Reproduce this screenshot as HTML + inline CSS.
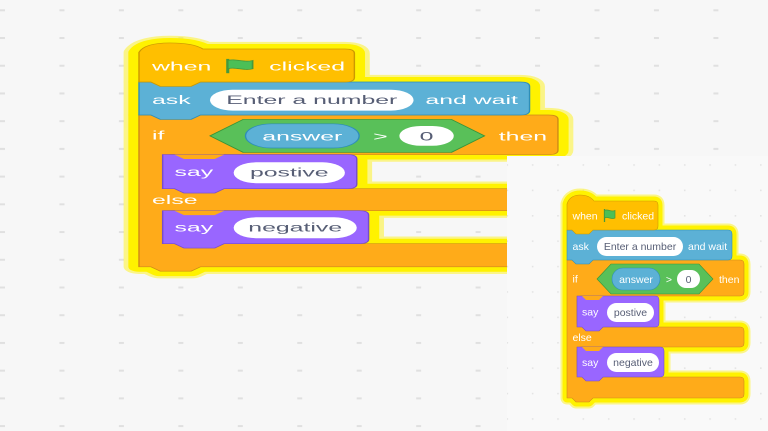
<!DOCTYPE html>
<html><head><meta charset="utf-8"><style>
html,body{margin:0;padding:0;width:768px;height:431px;overflow:hidden;background:#f8f8f8}
svg{display:block}
text{font-family:"Liberation Sans",sans-serif;font-size:10.5px}
.w{fill:#fff}.d{fill:#575e75}
</style></head><body>
<svg width="768" height="431" viewBox="0 0 768 431" xmlns="http://www.w3.org/2000/svg">
<defs>
<pattern id="gA" patternUnits="userSpaceOnUse" x="0" y="9.3" width="59.45" height="27.72"><rect x="0" y="0" width="5" height="2" fill="#e0e0e0"/></pattern>
<pattern id="gB" patternUnits="userSpaceOnUse" x="506.5" y="164.2" width="25.35" height="25.4"><rect x="0" y="0" width="1.6" height="1.6" fill="#e4e4e4"/></pattern>
</defs>
<rect width="768" height="431" fill="#f7f7f7"/>
<rect width="768" height="431" fill="url(#gA)"/>

<!-- LEFT (stretched) -->
<g transform="matrix(2.367 0 0 1.1 -1203.1 -171)">
 <g fill="none" stroke="#fff200" stroke-linejoin="round" opacity="0.45" stroke-width="13">
  <path d="M567,230 V203 C569,196 575,194.5 580,194.5 C586,194.5 591,196 594,200 H654 Q658,200 658,204 V226 Q658,230 654,230 Z"/>
  <path d="M567,230 H728 Q732,230 732,234 V256 Q732,260 728,260 H567 Z"/>
  <path d="M567,260 H740 Q744,260 744,264 V292 Q744,296 740,296 H581 Q577,296 577,300 V323 Q577,327 581,327 H740 Q744,327 744,331 V343 Q744,347 740,347 H581 Q577,347 577,351 V373 Q577,377 581,377 H740 Q744,377 744,381 V394 Q744,398 740,398 H593 L589,402 H576 L572,398 H567 Z"/>
  <path d="M577,296 H655 Q659,296 659,300 V323 Q659,327 655,327 H577 Z"/>
  <path d="M577,347 H660 Q664,347 664,351 V373 Q664,377 660,377 H577 Z"/>
 </g>
 <g fill="#fff200" stroke="#fff200" stroke-linejoin="round" stroke-width="9">
  <path d="M567,230 V203 C569,196 575,194.5 580,194.5 C586,194.5 591,196 594,200 H654 Q658,200 658,204 V226 Q658,230 654,230 Z"/>
  <path d="M567,230 H728 Q732,230 732,234 V256 Q732,260 728,260 H567 Z"/>
  <path d="M567,260 H740 Q744,260 744,264 V292 Q744,296 740,296 H581 Q577,296 577,300 V323 Q577,327 581,327 H740 Q744,327 744,331 V343 Q744,347 740,347 H581 Q577,347 577,351 V373 Q577,377 581,377 H740 Q744,377 744,381 V394 Q744,398 740,398 H593 L589,402 H576 L572,398 H567 Z"/>
  <path d="M577,296 H655 Q659,296 659,300 V323 Q659,327 655,327 H577 Z"/>
  <path d="M577,347 H660 Q664,347 664,351 V373 Q664,377 660,377 H577 Z"/>
 </g>
 <path d="M567,260 H740 Q744,260 744,264 V292 Q744,296 740,296 H581 Q577,296 577,300 V323 Q577,327 581,327 H740 Q744,327 744,331 V343 Q744,347 740,347 H581 Q577,347 577,351 V373 Q577,377 581,377 H740 Q744,377 744,381 V394 Q744,398 740,398 H593 L589,402 H576 L572,398 H567 Z" fill="#ffab19" stroke="#cf8b17" stroke-width="0.6"/>
 <path d="M577,296 H655 Q659,296 659,300 V323 Q659,327 655,327 H603 L599,331 H586 L582,327 H577 Z" fill="#9966ff" stroke="#774dcb" stroke-width="0.6"/>
 <path d="M577,347 H660 Q664,347 664,351 V373 Q664,377 660,377 H603 L599,381 H586 L582,377 H577 Z" fill="#9966ff" stroke="#774dcb" stroke-width="0.6"/>
 <path d="M582,296 L586,300 H599 L603,296 Z" fill="#ffab19"/>
 <path d="M582,347 L586,351 H599 L603,347 Z" fill="#ffab19"/>
 <path d="M567,230 H728 Q732,230 732,234 V256 Q732,260 728,260 H593 L589,264 H576 L572,260 H567 Z" fill="#5cb1d6" stroke="#2e8eb8" stroke-width="0.6"/>
 <path d="M567,230 V203 C569,196 575,194.5 580,194.5 C586,194.5 591,196 594,200 H654 Q658,200 658,204 V226 Q658,230 654,230 H593 L589,234 H576 L572,230 H567 Z" fill="#ffbf00" stroke="#cc9900" stroke-width="0.6"/>
 <text x="572.5" y="219.5" class="w">when</text>
 <line x1="604.5" y1="209" x2="604.5" y2="222" stroke="#45993d" stroke-width="1.3"/>
 <path d="M604.5,210.5 C608,208.5 611,212.5 615,210.5 L615,218 C611,220 608,216 604.5,218 Z" fill="#4cbf56" stroke="#45993d" stroke-width="0.7"/>
 <text x="622" y="219.5" class="w">clicked</text>
 <text x="572.5" y="250" class="w">ask</text>
 <rect x="597" y="237" width="86" height="19" rx="9.5" fill="#fff"/>
 <text x="640" y="250" class="d" text-anchor="middle">Enter a number</text>
 <text x="688" y="250" class="w">and wait</text>
 <text x="572.5" y="282.5" class="w">if</text>
 <path d="M597,279 L611,264 H699 L713,279 L699,294 H611 Z" fill="#59c059" stroke="#389438" stroke-width="0.6"/>
 <rect x="612" y="268" width="48" height="22" rx="11" fill="#5cb1d6" stroke="#2e8eb8" stroke-width="0.6"/>
 <text x="636" y="283" class="w" text-anchor="middle">answer</text>
 <text x="669" y="283" class="w" text-anchor="middle">&gt;</text>
 <rect x="677" y="270" width="23" height="18" rx="9" fill="#fff"/>
 <text x="688.5" y="283" class="d" text-anchor="middle">0</text>
 <text x="719" y="283" class="w">then</text>
 <text x="582" y="315.5" class="w">say</text>
 <rect x="607" y="303" width="47" height="19" rx="9.5" fill="#fff"/>
 <text x="630.5" y="316" class="d" text-anchor="middle">postive</text>
 <text x="572.5" y="341" class="w">else</text>
 <text x="582" y="366" class="w">say</text>
 <rect x="607" y="353" width="52" height="19" rx="9.5" fill="#fff"/>
 <text x="633" y="366" class="d" text-anchor="middle">negative</text>
</g>

<!-- RIGHT pasted image area -->
<rect x="507" y="156" width="261" height="275" fill="#f9f9f9"/>
<rect x="507" y="156" width="261" height="275" fill="url(#gB)"/>

<g>
 <g fill="none" stroke="#fff200" stroke-linejoin="round" opacity="0.45" stroke-width="13">
  <path d="M567,230 V204 C569,197 575,195 580,195 C586,195 591,197 594,201 H654 Q658,201 658,205 V226 Q658,230 654,230 Z"/>
  <path d="M567,230 H728 Q732,230 732,234 V256 Q732,260 728,260 H567 Z"/>
  <path d="M567,260 H740 Q744,260 744,264 V292 Q744,296 740,296 H581 Q577,296 577,300 V323 Q577,327 581,327 H740 Q744,327 744,331 V343 Q744,347 740,347 H581 Q577,347 577,351 V373 Q577,377 581,377 H740 Q744,377 744,381 V394 Q744,398 740,398 H593 L589,402 H576 L572,398 H567 Z"/>
  <path d="M577,296 H655 Q659,296 659,300 V323 Q659,327 655,327 H577 Z"/>
  <path d="M577,347 H660 Q664,347 664,351 V373 Q664,377 660,377 H577 Z"/>
 </g>
 <g fill="#fff200" stroke="#fff200" stroke-linejoin="round" stroke-width="9">
  <path d="M567,230 V204 C569,197 575,195 580,195 C586,195 591,197 594,201 H654 Q658,201 658,205 V226 Q658,230 654,230 Z"/>
  <path d="M567,230 H728 Q732,230 732,234 V256 Q732,260 728,260 H567 Z"/>
  <path d="M567,260 H740 Q744,260 744,264 V292 Q744,296 740,296 H581 Q577,296 577,300 V323 Q577,327 581,327 H740 Q744,327 744,331 V343 Q744,347 740,347 H581 Q577,347 577,351 V373 Q577,377 581,377 H740 Q744,377 744,381 V394 Q744,398 740,398 H593 L589,402 H576 L572,398 H567 Z"/>
  <path d="M577,296 H655 Q659,296 659,300 V323 Q659,327 655,327 H577 Z"/>
  <path d="M577,347 H660 Q664,347 664,351 V373 Q664,377 660,377 H577 Z"/>
 </g>
 <path d="M567,260 H740 Q744,260 744,264 V292 Q744,296 740,296 H581 Q577,296 577,300 V323 Q577,327 581,327 H740 Q744,327 744,331 V343 Q744,347 740,347 H581 Q577,347 577,351 V373 Q577,377 581,377 H740 Q744,377 744,381 V394 Q744,398 740,398 H593 L589,402 H576 L572,398 H567 Z" fill="#ffab19" stroke="#cf8b17" stroke-width="0.6"/>
 <path d="M577,296 H655 Q659,296 659,300 V323 Q659,327 655,327 H603 L599,331 H586 L582,327 H577 Z" fill="#9966ff" stroke="#774dcb" stroke-width="0.6"/>
 <path d="M577,347 H660 Q664,347 664,351 V373 Q664,377 660,377 H603 L599,381 H586 L582,377 H577 Z" fill="#9966ff" stroke="#774dcb" stroke-width="0.6"/>
 <path d="M582,296 L586,300 H599 L603,296 Z" fill="#ffab19"/>
 <path d="M582,347 L586,351 H599 L603,347 Z" fill="#ffab19"/>
 <path d="M567,230 H728 Q732,230 732,234 V256 Q732,260 728,260 H593 L589,264 H576 L572,260 H567 Z" fill="#5cb1d6" stroke="#2e8eb8" stroke-width="0.6"/>
 <path d="M567,230 V204 C569,197 575,195 580,195 C586,195 591,197 594,201 H654 Q658,201 658,205 V226 Q658,230 654,230 H593 L589,234 H576 L572,230 H567 Z" fill="#ffbf00" stroke="#cc9900" stroke-width="0.6"/>
 <text x="572.5" y="219.5" class="w">when</text>
 <line x1="604.5" y1="209" x2="604.5" y2="222" stroke="#45993d" stroke-width="1.3"/>
 <path d="M604.5,210.5 C608,208.5 611,212.5 615,210.5 L615,218 C611,220 608,216 604.5,218 Z" fill="#4cbf56" stroke="#45993d" stroke-width="0.7"/>
 <text x="622" y="219.5" class="w">clicked</text>
 <text x="572.5" y="250" class="w">ask</text>
 <rect x="597" y="237" width="86" height="19" rx="9.5" fill="#fff"/>
 <text x="640" y="250" class="d" text-anchor="middle">Enter a number</text>
 <text x="688" y="250" class="w">and wait</text>
 <text x="572.5" y="282.5" class="w">if</text>
 <path d="M597,279 L611,264 H699 L713,279 L699,294 H611 Z" fill="#59c059" stroke="#389438" stroke-width="0.6"/>
 <rect x="612" y="268" width="48" height="22" rx="11" fill="#5cb1d6" stroke="#2e8eb8" stroke-width="0.6"/>
 <text x="636" y="283" class="w" text-anchor="middle">answer</text>
 <text x="669" y="283" class="w" text-anchor="middle">&gt;</text>
 <rect x="677" y="270" width="23" height="18" rx="9" fill="#fff"/>
 <text x="688.5" y="283" class="d" text-anchor="middle">0</text>
 <text x="719" y="283" class="w">then</text>
 <text x="582" y="315.5" class="w">say</text>
 <rect x="607" y="303" width="47" height="19" rx="9.5" fill="#fff"/>
 <text x="630.5" y="316" class="d" text-anchor="middle">postive</text>
 <text x="572.5" y="341" class="w">else</text>
 <text x="582" y="366" class="w">say</text>
 <rect x="607" y="353" width="52" height="19" rx="9.5" fill="#fff"/>
 <text x="633" y="366" class="d" text-anchor="middle">negative</text>
</g>
</svg>
</body></html>
